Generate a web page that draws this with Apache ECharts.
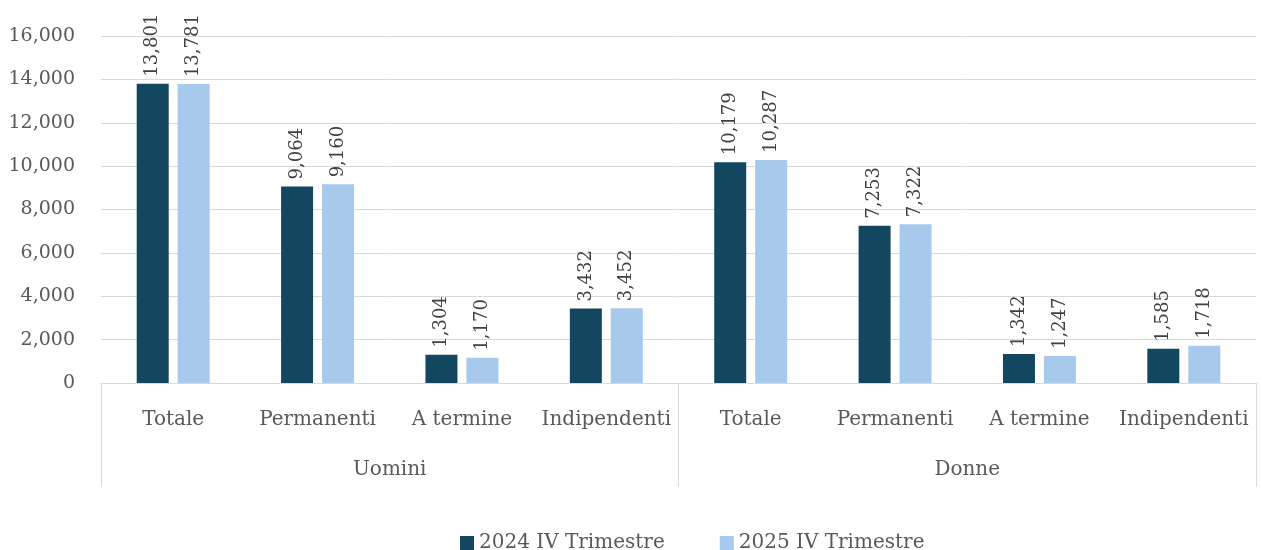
<!DOCTYPE html>
<html>
<head>
<meta charset="utf-8">
<script src="https://cdn.jsdelivr.net/npm/echarts@6/dist/echarts.min.js"></script>
<style>
  html, body { margin: 0; padding: 0; background: #fff; }
  #chart { width: 1262px; height: 550px; }
</style>
</head>
<body>
<div id="chart"></div>
<script>
var categories = ['Totale', 'Permanenti', 'A termine', 'Indipendenti',
                  'Totale', 'Permanenti', 'A termine', 'Indipendenti'];
var groups = ['Uomini', 'Donne'];
var seriesNames = ['2024 IV Trimestre', '2025 IV Trimestre'];
var values2024 = [13801, 9064, 1304, 3432, 10179, 7253, 1342, 1585];
var values2025 = [13781, 9160, 1170, 3452, 10287, 7322, 1247, 1718];

var font = '"DejaVu Serif", "Liberation Serif", serif';
var grayText = '#595959';
var lineGray = '#d9d9d9';

function fmt(v) {
    return Number(v).toLocaleString('en-US');
}

var labelOpt = {
    show: true,
    position: 'top',
    distance: 7,
    rotate: 90,
    align: 'left',
    verticalAlign: 'middle',
    fontFamily: font,
    fontSize: 18,
    color: '#404040',
    formatter: function (p) { return fmt(p.value); }
};

var option = {
    backgroundColor: '#fff',
    animation: false,
    grid: { left: 101, right: 6, top: 36, bottom: 167 },
    legend: {
        top: 528,
        left: 455,
        itemWidth: 14,
        itemHeight: 14,
        itemGap: 55,
        icon: 'rect',
        textStyle: { fontFamily: font, fontSize: 20, color: grayText },
        data: seriesNames
    },
    xAxis: [
        {
            type: 'category',
            data: categories,
            position: 'bottom',
            axisLine: { show: true, lineStyle: { color: lineGray, width: 1 } },
            axisTick: { show: false },
            axisLabel: {
                margin: 27,
                interval: 0,
                fontFamily: font,
                fontSize: 20,
                color: grayText
            }
        },
        {
            type: 'category',
            data: groups,
            position: 'bottom',
            axisLine: { show: false },
            axisTick: { show: true, length: 104, lineStyle: { color: lineGray, width: 1 } },
            axisLabel: {
                margin: 77,
                fontFamily: font,
                fontSize: 20,
                color: grayText
            },
            splitLine: { show: false }
        }
    ],
    yAxis: {
        type: 'value',
        min: 0,
        max: 16000,
        interval: 2000,
        axisLine: { show: false },
        axisTick: { show: false },
        splitLine: { lineStyle: { color: lineGray, width: 1 } },
        axisLabel: {
            margin: 26,
            fontFamily: font,
            fontSize: 19,
            color: grayText,
            formatter: function (v) { return fmt(v); }
        }
    },
    series: [
        {
            name: seriesNames[0],
            type: 'bar',
            data: values2024,
            barWidth: 32,
            barGap: '28%',
            itemStyle: { color: '#13475F' },
            label: labelOpt
        },
        {
            name: seriesNames[1],
            type: 'bar',
            data: values2025,
            barWidth: 32,
            barGap: '28%',
            itemStyle: { color: '#A7C9EB' },
            label: labelOpt
        }
    ]
};

var chart = echarts.init(document.getElementById('chart'));
chart.setOption(option);
</script>
</body>
</html>
